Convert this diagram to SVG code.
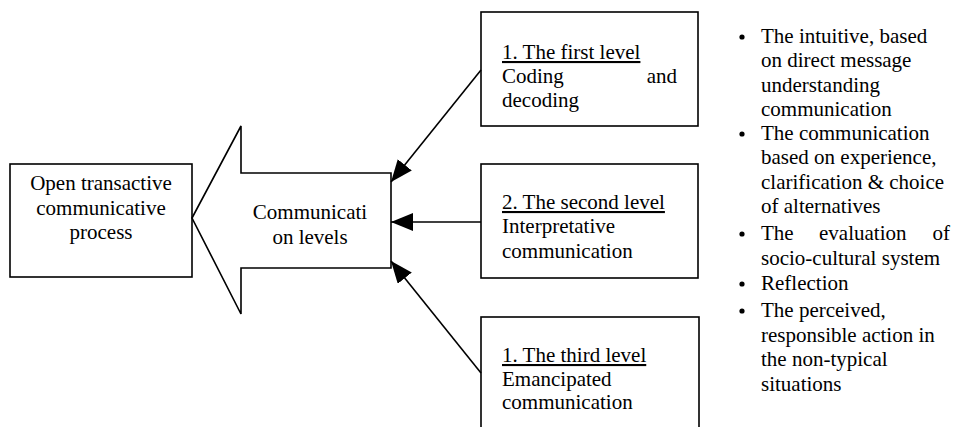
<svg xmlns="http://www.w3.org/2000/svg" width="954" height="427" viewBox="0 0 954 427">
<style>
text{font-family:"Liberation Serif","Times New Roman",serif;font-size:21px;fill:#000}
.box{fill:#fff;stroke:#000;stroke-width:1.6}
.conn{stroke:#000;stroke-width:1.6;fill:none}
.u{text-decoration:underline}
.mid{text-anchor:middle}
.end{text-anchor:end}
</style>
<defs>
<marker id="ah" markerUnits="userSpaceOnUse" markerWidth="24" markerHeight="20" refX="22" refY="9" orient="auto">
<path d="M0,0 L22,9 L0,18 z" fill="#000"/>
</marker>
</defs>
<rect width="954" height="427" fill="#fff"/>
<g id="open-process">
<rect class="box" x="10" y="164" width="182" height="113"/>
<text class="mid" x="101" y="190">Open transactive</text>
<text class="mid" x="101" y="215">communicative</text>
<text class="mid" x="101" y="239">process</text>
</g>
<g id="communication-levels">
<path class="box" d="M192,218 L241,126 L241,173 L391,173 L391,268 L241,268 L241,314 Z"/>
<text class="mid" x="310" y="219">Communicati</text>
<text class="mid" x="310" y="244">on levels</text>
</g>
<g id="level1">
<rect class="box" x="481" y="12" width="217" height="114"/>
<text class="u" x="502" y="59">1. The first level</text>
<text x="502" y="83">Coding</text>
<text class="end" x="677" y="83">and</text>
<text x="502" y="107">decoding</text>
</g>
<g id="level2">
<rect class="box" x="481" y="164" width="217" height="114"/>
<text class="u" x="502" y="209">2. The second level</text>
<text x="502" y="233">Interpretative</text>
<text x="502" y="258">communication</text>
</g>
<g id="level3">
<rect class="box" x="481" y="317" width="218" height="115"/>
<text class="u" x="502" y="362">1. The third level</text>
<text x="502" y="386">Emancipated</text>
<text x="502" y="409">communication</text>
</g>
<g id="connectors">
<line class="conn" x1="481" y1="70" x2="391" y2="182" marker-end="url(#ah)"/>
<line class="conn" x1="481" y1="222" x2="391" y2="222" marker-end="url(#ah)"/>
<line class="conn" x1="481" y1="373" x2="391" y2="261" marker-end="url(#ah)"/>
</g>
<g id="list">
<circle cx="742" cy="37" r="2.6"/>
<text x="761" y="43">The intuitive, based</text>
<text x="761" y="67">on direct message</text>
<text x="761" y="92">understanding</text>
<text x="761" y="116">communication</text>
<circle cx="742" cy="134" r="2.6"/>
<text x="761" y="140">The communication</text>
<text x="761" y="164">based on experience,</text>
<text x="761" y="189">clarification &amp; choice</text>
<text x="761" y="213">of alternatives</text>
<circle cx="742" cy="234" r="2.6"/>
<text x="761" y="240">The</text>
<text x="819" y="240">evaluation</text>
<text class="end" x="950" y="240">of</text>
<text x="761" y="265">socio-cultural system</text>
<circle cx="742" cy="284" r="2.6"/>
<text x="761" y="290">Reflection</text>
<circle cx="742" cy="311" r="2.6"/>
<text x="761" y="317">The perceived,</text>
<text x="761" y="342">responsible action in</text>
<text x="761" y="366">the non-typical</text>
<text x="761" y="391">situations</text>
</g>
</svg>
